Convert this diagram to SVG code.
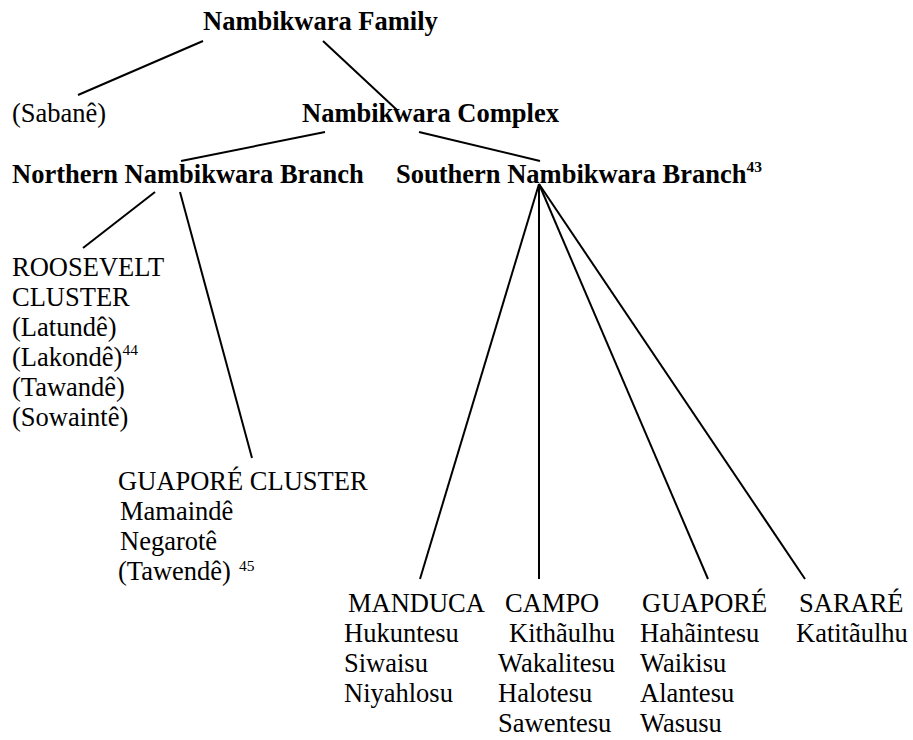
<svg xmlns="http://www.w3.org/2000/svg" width="913" height="740" viewBox="0 0 913 740">
<style>
text{font-family:"Liberation Serif","Times New Roman",serif;font-size:26.5px;fill:#000}
.b{font-weight:bold}
.sup{font-size:15.5px}
.conn line{stroke:#000;stroke-width:2;fill:none}
</style>
<rect width="913" height="740" fill="#fff"/>
<g class="conn">
<line x1="203" y1="41" x2="78" y2="95"/>
<line x1="323" y1="41" x2="397" y2="110"/>
<line x1="325" y1="132" x2="181" y2="161"/>
<line x1="419" y1="132" x2="540" y2="161"/>
<line x1="155" y1="192" x2="83" y2="248"/>
<line x1="180" y1="192" x2="252" y2="458"/>
<line x1="539" y1="184" x2="420" y2="579"/>
<line x1="539" y1="184" x2="539" y2="579"/>
<line x1="539" y1="184" x2="708" y2="579"/>
<line x1="539" y1="184" x2="805" y2="579"/>
</g>
<g id="family"><text class="b" x="203" y="30">Nambikwara Family</text></g>
<g id="sabane"><text x="12" y="122">(Sabanê)</text></g>
<g id="complex"><text class="b" x="302" y="122">Nambikwara Complex</text></g>
<g id="northern"><text class="b" x="12" y="183">Northern Nambikwara Branch</text></g>
<g id="southern"><text class="b" x="396" y="183">Southern Nambikwara Branch<tspan class="sup" dy="-11">43</tspan></text></g>
<g id="roosevelt">
<text x="12" y="276">ROOSEVELT</text>
<text x="12" y="306">CLUSTER</text>
<text x="12" y="336">(Latundê)</text>
<text x="12" y="366">(Lakondê)<tspan class="sup" dy="-11">44</tspan></text>
<text x="12" y="396">(Tawandê)</text>
<text x="12" y="426">(Sowaintê)</text>
</g>
<g id="guapore-cluster">
<text x="118" y="490">GUAPORÉ CLUSTER</text>
<text x="120" y="520">Mamaindê</text>
<text x="120" y="550">Negarotê</text>
<text x="118" y="580">(Tawendê)<tspan class="sup" dx="8" dy="-9">45</tspan></text>
</g>
<g id="manduca">
<text x="348" y="612">MANDUCA</text>
<text x="344" y="642">Hukuntesu</text>
<text x="344" y="672">Siwaisu</text>
<text x="344" y="702">Niyahlosu</text>
</g>
<g id="campo">
<text x="505" y="612">CAMPO</text>
<text x="509" y="642">Kithãulhu</text>
<text x="498" y="672">Wakalitesu</text>
<text x="498" y="702">Halotesu</text>
<text x="498" y="732">Sawentesu</text>
</g>
<g id="guapore">
<text x="642" y="612">GUAPORÉ</text>
<text x="640" y="642">Hahãintesu</text>
<text x="640" y="672">Waikisu</text>
<text x="640" y="702">Alantesu</text>
<text x="640" y="732">Wasusu</text>
</g>
<g id="sarare">
<text x="799" y="612">SARARÉ</text>
<text x="796" y="642">Katitãulhu</text>
</g>
</svg>
